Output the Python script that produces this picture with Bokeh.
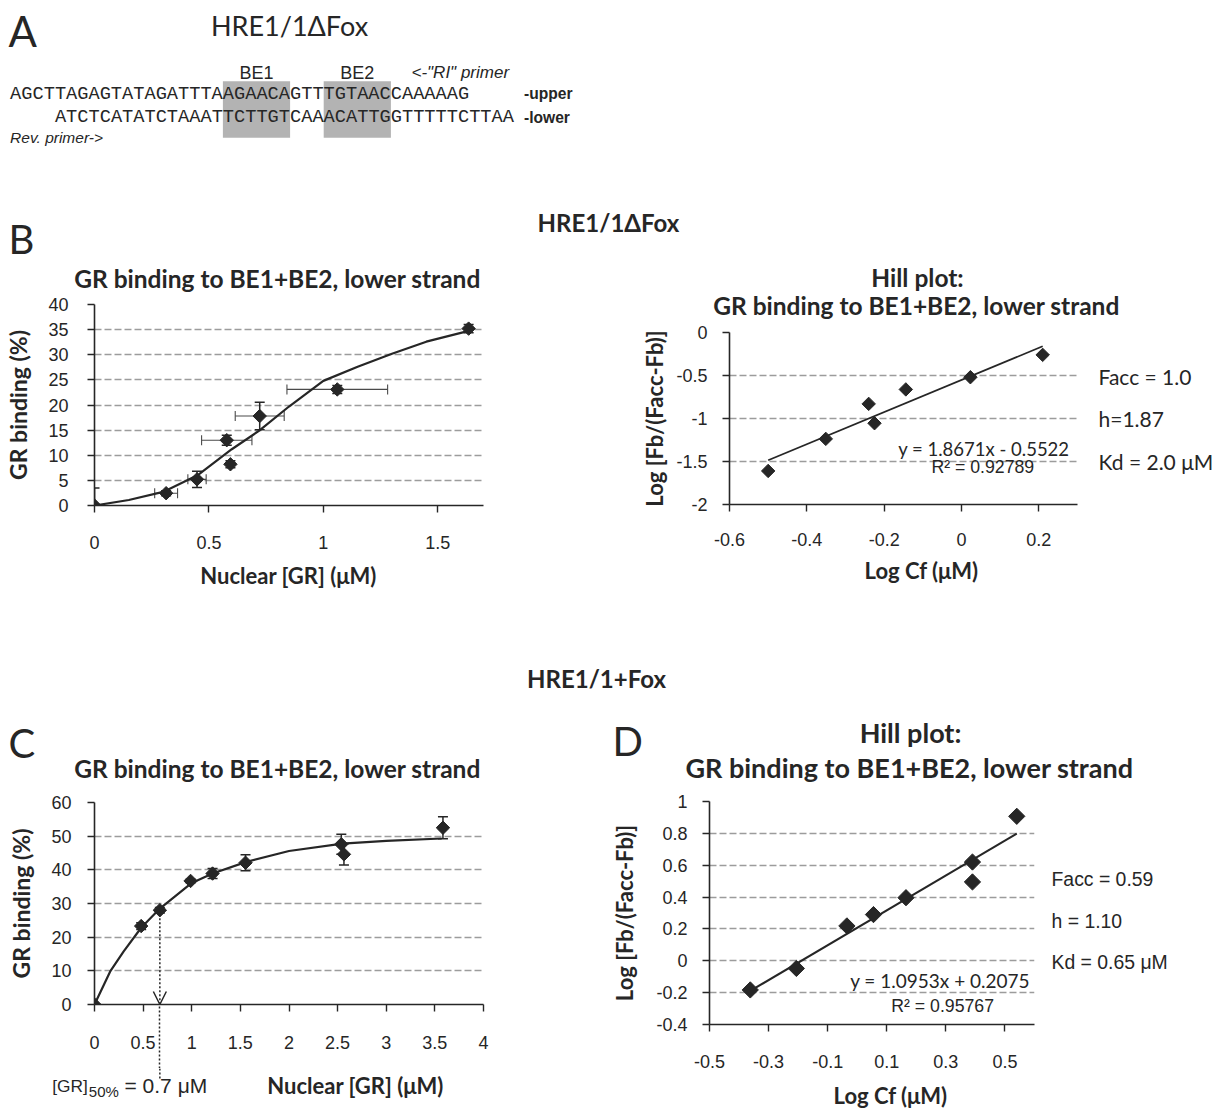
import math
from bokeh.plotting import figure
from bokeh.models import (Range1d, FixedTicker, Label, Whisker, TeeHead, LinearAxis,
                          ColumnDataSource, Arrow, OpenHead)
from bokeh.layouts import column, row
from bokeh.core.properties import value
from bokeh.embed import file_html
from bokeh.resources import INLINE

# ---------------- data ----------------
# Panel A: probe sequences and binding elements (character columns)
seq_upper = "AGCTTAGAGTATAGATTTAAGAACAGTTTGTAACCAAAAAG"
seq_lower = "ATCTCATATCTAAATTCTTGTCAAACATTGGTTTTTCTTAA"
seq_lower_offset = 4
box_names = ["BE1", "BE2"]
box_start = [19, 28]
box_end = [25, 34]

# Panel B (left): GR binding, HRE1/1dFox
b_conc = [0, 0.313, 0.448, 0.578, 0.594, 0.722, 1.061, 1.635]
b_bind = [0, 2.45, 5.2, 13.0, 8.2, 17.8, 23.1, 35.2]
b_bind_err = [3.5, 0.5, 1.6, 1.0, 0.7, 2.75, 0.8, 0.8]
b_conc_err = [0, 0.05, 0.04, 0.11, 0, 0.107, 0.22, 0]
b_fit_x = [0, 0.15, 0.3, 0.45, 0.6, 0.72, 0.85, 1.0, 1.15, 1.3, 1.45, 1.64]
b_fit_y = [0, 1.1, 2.7, 6.0, 11.2, 14.9, 19.7, 24.8, 27.6, 30.2, 32.6, 34.8]
b_xticks = [0, 0.5, 1, 1.5]
b_xlabels = ["0", "0.5", "1", "1.5"]
b_yticks = [0, 5, 10, 15, 20, 25, 30, 35, 40]
b_ylabels = ["0", "5", "10", "15", "20", "25", "30", "35", "40"]

# Panel B (right): Hill plot
bh_logcf = [-0.5, -0.351, -0.24, -0.225, -0.144, 0.023, 0.21]
bh_logratio = [-1.61, -1.237, -0.83, -1.055, -0.662, -0.52, -0.26]
bh_slope, bh_intercept = 1.8671, -0.5522
bh_eq = "y = 1.8671x - 0.5522"
bh_r2 = "R\u00b2 = 0.92789"
bh_params = ["Facc = 1.0", "h=1.87", "Kd = 2.0 \u03bcM"]
bh_xticks = [-0.6, -0.4, -0.2, 0, 0.2]
bh_xlabels = ["-0.6", "-0.4", "-0.2", "0", "0.2"]
bh_yticks = [-2, -1.5, -1, -0.5, 0]
bh_ylabels = ["-2", "-1.5", "-1", "-0.5", "0"]

# Panel C: GR binding, HRE1/1+Fox
c_conc = [0, 0.48, 0.672, 0.988, 1.214, 1.553, 2.538, 2.565, 3.583]
c_bind = [0, 23.3, 28.0, 36.7, 38.9, 42.1, 47.6, 44.6, 52.5]
c_bind_err = [0, 1.0, 0.8, 0.5, 1.5, 2.4, 3.0, 3.2, 3.3]
c_fit_x = [0, 0.165, 0.3, 0.48, 0.672, 1.0, 1.214, 1.554, 2.0, 2.55, 3.0, 3.57]
c_fit_y = [0, 10.0, 15.8, 22.8, 28.5, 36.1, 38.9, 42.3, 45.6, 47.8, 48.6, 49.3]
c_gr50_x, c_gr50_y = 0.672, 28.0
c_xticks = [0, 0.5, 1, 1.5, 2, 2.5, 3, 3.5, 4]
c_xlabels = ["0", "0.5", "1", "1.5", "2", "2.5", "3", "3.5", "4"]
c_yticks = [0, 10, 20, 30, 40, 50, 60]
c_ylabels = ["0", "10", "20", "30", "40", "50", "60"]

# Panel D: Hill plot
d_logcf = [-0.362, -0.206, -0.035, 0.055, 0.165, 0.39, 0.39, 0.54]
d_logratio = [-0.183, -0.048, 0.219, 0.29, 0.396, 0.62, 0.495, 0.907]
d_slope, d_intercept = 1.0953, 0.2075
d_eq = "y = 1.0953x + 0.2075"
d_r2 = "R\u00b2 = 0.95767"
d_params = ["Facc = 0.59", "h = 1.10", "Kd = 0.65 \u03bcM"]
d_xticks = [-0.5, -0.3, -0.1, 0.1, 0.3, 0.5]
d_xlabels = ["-0.5", "-0.3", "-0.1", "0.1", "0.3", "0.5"]
d_yticks = [-0.4, -0.2, 0, 0.2, 0.4, 0.6, 0.8, 1]
d_ylabels = ["-0.4", "-0.2", "0", "0.2", "0.4", "0.6", "0.8", "1"]

# ---------------- style ----------------
INK = "#262626"
GRID = "#9c9c9c"
SANS = "Lato"
ARIAL = "Liberation Sans"
MONO = "Liberation Mono"
TICK_SIZE = "18px"
TITLE = 24.5
XTITLE = 22


def strip(x0, x1, y0, y1, xr=None):
    """A plain text area covering page pixels x0..x1, y0..y1."""
    p = figure(width=x1 - x0, height=y1 - y0,
               x_range=Range1d(*(xr if xr is not None else (x0, x1))),
               y_range=Range1d(y1, y0), output_backend="svg", toolbar_location=None,
               min_border=0, x_axis_location=None, y_axis_location=None)
    p.outline_line_color = None
    p.grid.visible = False
    p.title.visible = False
    return p


def ttext(p, x, y, text, size, font=SANS, style="normal", align="left"):
    p.text(x=[x], y=[y], text=[text], text_font=value(font), text_font_size=f"{size}px",
           text_font_style=style, text_align=align, text_baseline="middle", text_color=INK)


class Panel:
    """A chart whose frame sits at given page pixels."""
    def __init__(self, origin, size, frame, xr, yr):
        ox, oy = origin
        w, h = size
        self.fl, self.ft, self.fr, self.fb = frame
        self.xr, self.yr = xr, yr
        self.p = figure(width=w, height=h, x_range=Range1d(*xr), y_range=Range1d(*yr),
                        output_backend="svg", toolbar_location=None,
                        min_border_left=self.fl - ox, min_border_right=ox + w - self.fr,
                        min_border_top=self.ft - oy, min_border_bottom=oy + h - self.fb)
        p = self.p
        p.title.visible = False
        p.outline_line_color = None
        p.xgrid.visible = False

    def X(self, px):
        return self.xr[0] + (px - self.fl) / (self.fr - self.fl) * (self.xr[1] - self.xr[0])

    def Y(self, py):
        return self.yr[1] - (py - self.ft) / (self.fb - self.ft) * (self.yr[1] - self.yr[0])

    def axes(self, xt, xl, yt, yl, xstand, ystand, ylabel, ylabel_size, ylabel_stand,
             xminor=None):
        p = self.p
        for ax, t, l, st in ((p.xaxis[0], xt, xl, xstand), (p.yaxis[0], yt, yl, ystand)):
            minor = xminor if (ax is p.xaxis[0] and xminor) else []
            ax.ticker = FixedTicker(ticks=t, minor_ticks=minor)
            ax.major_label_overrides = dict(zip(t, l))
            ax.axis_line_color = INK
            ax.axis_line_width = 1.6
            ax.major_tick_line_color = INK
            ax.major_tick_line_width = 1.4
            ax.major_tick_out = 7
            ax.major_tick_in = 0
            ax.minor_tick_line_color = None
            ax.major_label_text_font = ARIAL
            ax.major_label_text_font_size = TICK_SIZE
            ax.major_label_text_color = INK
            ax.major_label_standoff = st
        ya = p.yaxis[0]
        ya.axis_label = ylabel
        ya.axis_label_text_font = SANS
        ya.axis_label_text_font_style = "bold"
        ya.axis_label_text_font_size = f"{ylabel_size}px"
        ya.axis_label_text_color = INK
        ya.axis_label_standoff = ylabel_stand
        p.ygrid.ticker = FixedTicker(ticks=yt)
        p.ygrid.grid_line_color = GRID
        p.ygrid.grid_line_dash = "7 3"
        p.ygrid.grid_line_width = 1.4

    def params(self, texts, centers_px, font, size, standoff):
        ys = [self.Y(c) for c in centers_px]
        ax = LinearAxis(ticker=FixedTicker(ticks=ys), major_label_overrides=dict(zip(ys, texts)),
                        axis_line_color=None, major_tick_line_color=None,
                        minor_tick_line_color=None, major_tick_out=0, major_tick_in=0,
                        major_label_standoff=standoff, major_label_text_font=font,
                        major_label_text_font_size=f"{size}px", major_label_text_color=INK)
        self.p.add_layout(ax, "right")

    def label(self, px, py, text, size, font=SANS, align="center"):
        self.p.add_layout(Label(x=self.X(px), y=self.Y(py), text=text, text_font=font,
                                text_font_size=f"{size}px", text_align=align,
                                text_baseline="middle", text_color=INK))


def vbars(panel, xs, ys, errs, head=10, width=1.5, color=INK):
    keep = [i for i, e in enumerate(errs) if e > 0]
    src = ColumnDataSource(dict(
        x=[xs[i] for i in keep],
        up=[ys[i] + errs[i] for i in keep],
        lo=[max(panel.yr[0], ys[i] - errs[i]) for i in keep]))
    panel.p.add_layout(Whisker(source=src, base="x", upper="up", lower="lo",
                               dimension="height", line_color=color, line_width=width,
                               upper_head=TeeHead(size=head, line_color=color, line_width=width),
                               lower_head=TeeHead(size=head, line_color=color, line_width=width)))


def hbars(panel, xs, ys, errs, head=10, width=1.1, color="#4a4a4a"):
    keep = [i for i, e in enumerate(errs) if e > 0]
    src = ColumnDataSource(dict(
        y=[ys[i] for i in keep],
        up=[xs[i] + errs[i] for i in keep],
        lo=[xs[i] - errs[i] for i in keep]))
    panel.p.add_layout(Whisker(source=src, base="y", upper="up", lower="lo",
                               dimension="width", line_color=color, line_width=width,
                               upper_head=TeeHead(size=head, line_color=color, line_width=width),
                               lower_head=TeeHead(size=head, line_color=color, line_width=width)))


def diamonds(panel, xs, ys, size):
    panel.p.scatter(xs, ys, marker="square", angle=math.pi / 4, size=size,
                    fill_color=INK, line_color=INK, line_width=1)


def stack(*plots):
    # each plot wrapped on its own so that the column does not align their frames
    return column(*[row(p) for p in plots])


# ---------------- Panel A (text diagram) + header ----------------
CHAR_W = 11.2
SEQ_X0 = 9.6
t1 = strip(0, 1216, 0, 262)
t1.quad(left=[SEQ_X0 + s * CHAR_W for s in box_start],
        right=[SEQ_X0 + e * CHAR_W for e in box_end],
        top=[80.7] * len(box_start), bottom=[137.3] * len(box_start),
        fill_color="#b3b3b3", line_color=None)
ttext(t1, 8, 30, "A", 42)
ttext(t1, 289, 25, "HRE1/1\u0394Fox", 27, align="center")
for nm, s, e in zip(box_names, box_start, box_end):
    ttext(t1, SEQ_X0 + (s + e) / 2 * CHAR_W, 72, nm, 18, font=ARIAL, align="center")
ttext(t1, 411, 72, '<-"RI" primer', 17, font=ARIAL, style="italic")
ttext(t1, SEQ_X0, 93.5, seq_upper, 18.67, font=MONO)
ttext(t1, SEQ_X0 + seq_lower_offset * CHAR_W, 116.5, seq_lower, 18.67, font=MONO)
ttext(t1, 523.5, 93, "-upper", 15.6, font=ARIAL, style="bold")
ttext(t1, 523.5, 117, "-lower", 15.6, font=ARIAL, style="bold")
ttext(t1, 9.6, 136.7, "Rev. primer->", 15.5, font=ARIAL, style="italic")
ttext(t1, 8, 238, "B", 40)
ttext(t1, 608, 222, "HRE1/1\u0394Fox", 24, style="bold", align="center")

# ---------------- Panel B left ----------------
blt = strip(0, 608, 262, 294)
ttext(blt, 277, 278, "GR binding to BE1+BE2, lower strand", TITLE, style="bold", align="center")
BL = Panel((0, 294), (608, 266), (94, 304, 483, 505), (0, 1.7), (0, 40))
BL.axes(b_xticks, b_xlabels, b_yticks, b_ylabels, xstand=23, ystand=19,
        ylabel="GR binding (%)", ylabel_size=23, ylabel_stand=13)
BL.p.line(b_fit_x, b_fit_y, line_color=INK, line_width=2.2)
hbars(BL, b_conc, b_bind, b_conc_err)
vbars(BL, b_conc, b_bind, b_bind_err)
diamonds(BL, b_conc, b_bind, 9.5)
blb = strip(0, 608, 560, 608)
ttext(blb, 288, 575, "Nuclear [GR] (\u03bcM)", XTITLE, style="bold", align="center")

# ---------------- Panel B right (Hill) ----------------
brt = strip(608, 1216, 262, 320)
ttext(brt, 917, 277, "Hill plot:", TITLE, style="bold", align="center")
ttext(brt, 916, 305, "GR binding to BE1+BE2, lower strand", TITLE, style="bold", align="center")
BR = Panel((608, 320), (608, 238), (729, 332, 1078, 504), (-0.6, 0.3), (-2, 0))
BR.axes(bh_xticks, bh_xlabels, bh_yticks, bh_ylabels, xstand=21, ystand=15,
        ylabel="Log [Fb/(Facc-Fb)]", ylabel_size=XTITLE, ylabel_stand=5)
bx = [min(bh_logcf), max(bh_logcf)]
BR.p.line(bx, [bh_slope * v + bh_intercept for v in bx], line_color=INK, line_width=1.8)
diamonds(BR, bh_logcf, bh_logratio, 9.5)
BR.label(1070, 448.6, bh_eq, 18.5, align="right")
BR.label(983, 466, bh_r2, 17.7, font=ARIAL)
BR.params(bh_params, [376, 418, 461], SANS, 21, 21)
brb = strip(608, 1216, 558, 608)
ttext(brb, 921, 570, "Log Cf (\u03bcM)", XTITLE, style="bold", align="center")

# ---------------- header 2 ----------------
t2 = strip(0, 1216, 608, 698)
ttext(t2, 596, 678, "HRE1/1+Fox", 24, style="bold", align="center")

# ---------------- Panel C ----------------
ct = strip(0, 608, 698, 788)
ttext(ct, 8, 742, "C", 40)
ttext(ct, 277, 768, "GR binding to BE1+BE2, lower strand", TITLE, style="bold", align="center")
C = Panel((0, 788), (608, 280), (94, 802, 483, 1004), (0, 4), (0, 60))
C_MINOR = 64
C.axes(c_xticks, c_xlabels, c_yticks, c_ylabels, xstand=24 - (C_MINOR - 7), ystand=16,
       ylabel="GR binding (%)", ylabel_size=23, ylabel_stand=13, xminor=[c_gr50_x])
cx = C.p.xaxis[0]
cx.minor_tick_line_color = INK
cx.minor_tick_line_dash = "2 2"
cx.minor_tick_line_width = 1.5
cx.minor_tick_out = C_MINOR
cx.minor_tick_in = 0
C.p.line(c_fit_x, c_fit_y, line_color=INK, line_width=2.2)
vbars(C, c_conc, c_bind, c_bind_err)
diamonds(C, c_conc, c_bind, 9.5)
C.p.add_layout(Arrow(x_start=c_gr50_x, y_start=c_gr50_y, x_end=c_gr50_x, y_end=0,
                     line_color=INK, line_width=1.5, line_dash="2 2",
                     end=OpenHead(size=13, line_color=INK, line_width=1.5)))
cb = strip(0, 608, 1068, 1109, xr=(C.X(0), C.X(608)))
cb.segment(x0=[c_gr50_x], y0=[1068], x1=[c_gr50_x], y1=[1078], line_color=INK,
           line_width=1.5, line_dash="2 2")
ttext(cb, C.X(51.7), 1085, "[GR]", 17.3, font=ARIAL)
ttext(cb, C.X(88.3), 1091, "50%", 15, font=ARIAL)
ttext(cb, C.X(124), 1085, f"= {c_gr50_x:.1f} \u03bcM", 21, font=ARIAL)
ttext(cb, C.X(355), 1085, "Nuclear [GR] (\u03bcM)", XTITLE, style="bold", align="center")

# ---------------- Panel D (Hill) ----------------
dt = strip(608, 1216, 698, 788)
ttext(dt, 612, 740, "D", 40)
ttext(dt, 910, 732, "Hill plot:", 27, style="bold", align="center")
ttext(dt, 909, 767, "GR binding to BE1+BE2, lower strand", 27, style="bold", align="center")
D = Panel((608, 788), (608, 290), (704, 801, 1034, 1024), (-0.5, 0.6), (-0.4, 1))
D.axes(d_xticks, d_xlabels, d_yticks, d_ylabels, xstand=23, ystand=15,
       ylabel="Log [Fb/(Facc-Fb)]", ylabel_size=XTITLE, ylabel_stand=15)
dx = [min(d_logcf), max(d_logcf)]
D.p.line(dx, [d_slope * v + d_intercept for v in dx], line_color=INK, line_width=2)
diamonds(D, d_logcf, d_logratio, 11.5)
D.label(1029.5, 979.6, d_eq, 19, align="right")
D.label(940.7, 1005.4, d_r2, 17.7, font=ARIAL)
D.params(d_params, [878, 920, 961], ARIAL, 19.4, 17)
db = strip(608, 1216, 1078, 1109)
ttext(db, 890, 1095, "Log Cf (\u03bcM)", XTITLE, style="bold", align="center")

layout = column(
    t1,
    row(stack(blt, BL.p, blb), stack(brt, BR.p, brb)),
    t2,
    row(stack(ct, C.p, cb), stack(dt, D.p, db)),
)
open("out.html", "w").write(file_html(layout, INLINE))
